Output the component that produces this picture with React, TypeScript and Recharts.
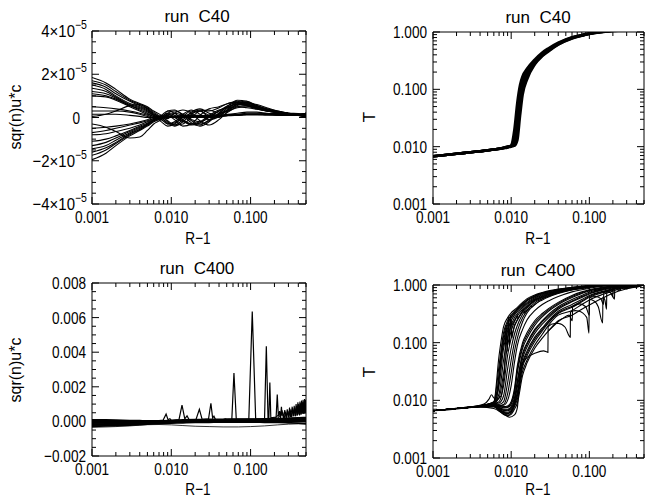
import React from 'react';
import { LineChart, Line, XAxis, YAxis, ReferenceArea } from 'recharts';

const FONT = '"Liberation Sans", Arial, sans-serif';
const FS = 17;
const NARROW = 0.8; // tick labels are drawn condensed, like the IDL vector font
const INK = '#000';

// ---- ticks -------------------------------------------------------------
const X_TICKS = [
  0.001, 0.002, 0.003, 0.004, 0.005, 0.006, 0.007, 0.008, 0.009,
  0.01, 0.02, 0.03, 0.04, 0.05, 0.06, 0.07, 0.08, 0.09,
  0.1, 0.2, 0.3, 0.4, 0.5,
];
const X_MAJOR = [0.001, 0.01, 0.1];
const X_DOMAIN: [number, number] = [0.001, 0.5];

const LOG_Y_TICKS = [
  0.001, 0.002, 0.003, 0.004, 0.005, 0.006, 0.007, 0.008, 0.009,
  0.01, 0.02, 0.03, 0.04, 0.05, 0.06, 0.07, 0.08, 0.09,
  0.1, 0.2, 0.3, 0.4, 0.5, 0.6, 0.7, 0.8, 0.9, 1,
];
const LOG_Y_MAJOR = [0.001, 0.01, 0.1, 1];

const TL_Y_TICKS = [
  -4e-5, -3.5e-5, -3e-5, -2.5e-5, -2e-5, -1.5e-5, -1e-5, -0.5e-5, 0,
  0.5e-5, 1e-5, 1.5e-5, 2e-5, 2.5e-5, 3e-5, 3.5e-5, 4e-5,
];
const TL_Y_MAJOR = [-4e-5, -2e-5, 0, 2e-5, 4e-5];

const BL_Y_TICKS = [
  -0.002, -0.0015, -0.001, -0.0005, 0, 0.0005, 0.001, 0.0015, 0.002, 0.0025,
  0.003, 0.0035, 0.004, 0.0045, 0.005, 0.0055, 0.006, 0.0065, 0.007, 0.0075, 0.008,
];
const BL_Y_MAJOR = [-0.002, 0, 0.002, 0.004, 0.006, 0.008];

// ---- run C40, sqr(n)u*c (values in units of 1e-5) -----------------------
const X1 = [0.001, 0.0015, 0.002, 0.003, 0.004, 0.005, 0.006, 0.0075, 0.009, 0.011, 0.014, 0.018,
  0.023, 0.03, 0.04, 0.052, 0.068, 0.09, 0.12, 0.16, 0.22, 0.3, 0.4, 0.5];
const U1 = [
  [1.85, 1.6, 1.3, 0.85, 0.65, 0.5, 0.3, 0.1, -0.2, -0.35, -0.1, 0.25, 0.4, 0.2, 0.1, 0.35, 0.6, 0.7, 0.55, 0.4, 0.3, 0.2, 0.15, 0.2],
  [1.7, 1.5, 1.2, 0.8, 0.6, 0.45, 0.25, 0.05, 0.1, -0.1, -0.4, -0.3, 0.1, 0.4, 0.5, 0.65, 0.75, 0.6, 0.45, 0.3, 0.25, 0.18, 0.12, 0.05],
  [1.6, 1.4, 1.1, 0.75, 0.55, 0.4, 0.2, 0.0, 0.3, 0.35, 0.1, -0.25, -0.4, -0.2, 0.2, 0.55, 0.8, 0.75, 0.5, 0.35, 0.25, 0.2, 0.18, 0.15],
  [1.5, 1.3, 1.0, 0.65, 0.5, 0.35, 0.15, 0.0, -0.05, 0.2, 0.35, 0.2, -0.15, -0.35, -0.1, 0.3, 0.55, 0.65, 0.6, 0.45, 0.3, 0.2, 0.15, 0.1],
  [1.35, 1.2, 0.95, 0.6, 0.45, 0.3, 0.1, -0.05, 0.15, 0.0, -0.2, -0.3, -0.35, -0.1, 0.15, 0.3, 0.45, 0.5, 0.45, 0.35, 0.25, 0.18, 0.1, 0.0],
  [1.2, 1.1, 0.9, 0.55, 0.4, 0.25, 0.1, 0.0, 0.0, 0.05, 0.1, 0.1, 0.05, 0.05, 0.1, 0.15, 0.2, 0.25, 0.25, 0.2, 0.18, 0.15, 0.12, 0.1],
  [1.1, 1.0, 0.85, 0.55, 0.35, 0.2, 0.05, 0.0, -0.3, -0.2, 0.15, 0.35, 0.15, -0.1, 0.05, 0.4, 0.7, 0.75, 0.55, 0.4, 0.28, 0.2, 0.14, 0.2],
  [1.0, 0.95, 0.8, 0.5, 0.3, 0.15, 0.05, 0.0, 0.05, 0.0, 0.05, 0.1, 0.1, 0.08, 0.1, 0.12, 0.15, 0.2, 0.2, 0.18, 0.15, 0.13, 0.11, 0.05],
  [0.5, 0.45, 0.4, 0.3, 0.2, 0.1, 0.0, -0.1, -0.3, -0.25, 0.05, 0.3, 0.3, 0.05, 0.15, 0.45, 0.65, 0.6, 0.45, 0.3, 0.22, 0.16, 0.12, 0.15],
  [0.3, 0.3, 0.3, 0.25, 0.15, 0.05, 0.0, 0.0, 0.0, 0.0, 0.0, 0.05, 0.05, 0.05, 0.05, 0.08, 0.1, 0.12, 0.12, 0.12, 0.11, 0.1, 0.1, 0.1],
  [0.05, 0.15, 0.3, 0.55, 0.6, 0.4, 0.1, -0.2, -0.4, -0.3, 0.0, 0.2, 0.35, 0.3, 0.45, 0.65, 0.7, 0.55, 0.4, 0.3, 0.22, 0.16, 0.12, 0.2],
  [0.15, 0.15, 0.15, 0.1, 0.05, 0.0, 0.0, 0.0, 0.05, 0.05, 0.0, 0.0, 0.05, 0.1, 0.1, 0.1, 0.12, 0.15, 0.15, 0.15, 0.13, 0.12, 0.1, 0.05],
  [-0.3, -0.45, -0.65, -0.95, -0.9, -0.6, -0.3, -0.1, 0.2, 0.3, 0.15, -0.15, -0.3, -0.15, 0.2, 0.5, 0.6, 0.55, 0.42, 0.32, 0.24, 0.17, 0.12, 0.1],
  [-0.5, -0.45, -0.4, -0.3, -0.2, -0.1, 0.0, 0.0, 0.05, 0.0, 0.0, 0.05, 0.05, 0.0, 0.05, 0.1, 0.12, 0.15, 0.15, 0.13, 0.12, 0.1, 0.1, 0.0],
  [-0.7, -0.6, -0.5, -0.35, -0.25, -0.15, -0.05, 0.1, 0.3, 0.2, -0.1, -0.3, -0.2, 0.1, 0.35, 0.45, 0.5, 0.45, 0.38, 0.3, 0.22, 0.16, 0.12, 0.15],
  [-0.8, -0.75, -0.65, -0.5, -0.35, -0.2, -0.05, 0.05, 0.0, 0.0, 0.05, 0.05, 0.0, 0.0, 0.05, 0.1, 0.12, 0.15, 0.15, 0.13, 0.12, 0.1, 0.1, 0.1],
  [-1.1, -1.0, -0.85, -0.6, -0.4, -0.25, -0.1, 0.0, -0.15, -0.35, -0.3, 0.0, 0.3, 0.35, 0.2, 0.35, 0.6, 0.62, 0.5, 0.36, 0.26, 0.18, 0.13, 0.2],
  [-1.3, -1.15, -0.95, -0.65, -0.45, -0.3, -0.1, 0.0, 0.05, 0.05, 0.05, 0.1, 0.08, 0.05, 0.08, 0.1, 0.12, 0.14, 0.15, 0.14, 0.12, 0.11, 0.1, 0.05],
  [-1.45, -1.3, -1.05, -0.7, -0.5, -0.3, -0.1, 0.05, 0.2, 0.1, -0.15, -0.35, -0.25, 0.05, 0.3, 0.55, 0.7, 0.68, 0.5, 0.36, 0.26, 0.18, 0.13, 0.1],
  [-1.6, -1.4, -1.15, -0.75, -0.55, -0.35, -0.15, 0.0, 0.0, 0.05, 0.05, 0.05, 0.05, 0.05, 0.08, 0.1, 0.12, 0.14, 0.14, 0.13, 0.12, 0.11, 0.1, 0.15],
  [-1.75, -1.5, -1.2, -0.8, -0.55, -0.35, -0.15, -0.05, -0.25, -0.4, -0.2, 0.15, 0.3, 0.1, 0.0, 0.25, 0.5, 0.55, 0.45, 0.34, 0.25, 0.18, 0.13, 0.1],
  [-1.95, -1.65, -1.3, -0.85, -0.6, -0.4, -0.2, -0.05, 0.1, 0.2, 0.1, -0.1, -0.2, 0.0, 0.3, 0.5, 0.62, 0.6, 0.46, 0.34, 0.25, 0.18, 0.13, 0.2],
];

// ---- run C40, T ---------------------------------------------------------
const X2 = [0.001, 0.002, 0.004, 0.006, 0.008, 0.009, 0.01, 0.011, 0.012, 0.013, 0.014, 0.016, 0.02,
  0.025, 0.03, 0.04, 0.06, 0.08, 0.1, 0.13, 0.16, 0.2, 0.3, 0.5];
const T1 = [
  [0.0068, 0.0075, 0.0083, 0.0089, 0.0094, 0.0097, 0.0105, 0.02, 0.06, 0.12, 0.17, 0.23, 0.33, 0.44, 0.52, 0.65, 0.81, 0.89, 0.95, 1.0, 1.03, 1.06, 1.08, 1.1],
  [0.0068, 0.0075, 0.0083, 0.0089, 0.0095, 0.0098, 0.0100, 0.014, 0.04, 0.09, 0.14, 0.21, 0.31, 0.42, 0.50, 0.63, 0.80, 0.88, 0.94, 0.99, 1.02, 1.05, 1.07, 1.1],
  [0.0068, 0.0075, 0.0083, 0.0089, 0.0095, 0.0099, 0.0101, 0.011, 0.027, 0.07, 0.12, 0.19, 0.30, 0.40, 0.48, 0.62, 0.79, 0.87, 0.93, 0.99, 1.02, 1.05, 1.07, 1.1],
  [0.0068, 0.0075, 0.0083, 0.0089, 0.0096, 0.0100, 0.0102, 0.0105, 0.018, 0.05, 0.10, 0.17, 0.28, 0.39, 0.47, 0.61, 0.78, 0.86, 0.93, 0.98, 1.02, 1.05, 1.07, 1.1],
  [0.0068, 0.0075, 0.0083, 0.0089, 0.0096, 0.0101, 0.0103, 0.0104, 0.013, 0.035, 0.08, 0.15, 0.27, 0.38, 0.46, 0.60, 0.77, 0.86, 0.92, 0.98, 1.01, 1.04, 1.07, 1.1],
];

// ---- run C400, sqr(n)u*c ------------------------------------------------
const X3 = [0.001, 0.0015, 0.002, 0.003, 0.004, 0.005, 0.007, 0.01, 0.014, 0.02, 0.03, 0.045, 0.07,
  0.1, 0.15, 0.22, 0.3, 0.4, 0.5];
// band, units of 1e-4
const U2 = [
  [0.9, 0.8, 0.7, 0.5, 0.4, 0.3, 0.3, 0.5, 0.8, 1.0, 1.1, 1.2, 1.3, 1.3, 1.4, 1.6, 1.8, 2.0, 2.2],
  [0.3, 0.2, 0.2, 0.1, 0.1, 0.0, 0.1, 0.3, 0.5, 0.7, 0.8, 0.9, 1.0, 1.1, 1.2, 1.3, 1.5, 1.6, 1.8],
  [-0.4, -0.4, -0.3, -0.3, -0.2, -0.2, 0.0, 0.2, 0.3, 0.5, 0.6, 0.7, 0.8, 0.8, 0.9, 1.0, 1.1, 1.2, 1.3],
  [-1.0, -0.9, -0.8, -0.7, -0.6, -0.4, -0.2, 0.0, 0.1, 0.3, 0.4, 0.5, 0.5, 0.6, 0.6, 0.7, 0.8, 0.8, 0.9],
  [-1.6, -1.5, -1.4, -1.2, -1.0, -0.8, -0.5, -0.3, -0.1, 0.1, 0.2, 0.3, 0.3, 0.3, 0.4, 0.4, 0.4, 0.5, 0.5],
  [-2.2, -2.0, -1.9, -1.6, -1.4, -1.2, -0.9, -0.6, -0.4, -0.2, 0.0, 0.1, 0.1, 0.1, 0.1, 0.0, 0.0, 0.1, 0.1],
  [-2.8, -2.6, -2.4, -2.1, -1.8, -1.5, -1.2, -1.0, -0.8, -0.6, -0.5, -0.4, -0.4, -0.4, -0.5, -0.6, -0.8, -1.0, -1.2],
];
const U2_LOW = [-3.4, -3.2, -3.0, -2.6, -2.2, -1.9, -1.8, -2.0, -2.4, -2.8, -3.0, -3.2, -3.2, -3.0, -2.6, -2.0, -1.6, -1.4, -1.6];
// spikes, units of 1e-3
const SP1_X = [0.001, 0.007, 0.0079, 0.0086, 0.0091, 0.0096, 0.0101, 0.0125, 0.01365, 0.0148, 0.0158, 0.0168,
  0.0205, 0.0226, 0.0245, 0.0295, 0.0316, 0.0332, 0.0345, 0.036, 0.045, 0.0483, 0.051, 0.058, 0.0617, 0.066,
  0.095, 0.105, 0.116, 0.15, 0.158, 0.166, 0.17, 0.175, 0.18, 0.21, 0.217, 0.224, 0.232, 0.238, 0.245, 0.25];
const SP1_Y = [0.05, 0.05, 0.08, 0.42, 0.1, 0.15, 0.06, 0.1, 0.94, 0.15, 0.32, 0.1,
  0.12, 0.7, 0.12, 0.15, 1.05, 0.2, 0.3, 0.12, 0.1, 0.15, 0.1, 0.12, 2.8, 0.12,
  0.12, 6.35, 0.12, 0.12, 4.35, 0.15, 0.2, 2.25, 0.2, 0.25, 1.55, 0.3, 0.6, 0.2, 0.85, 0.3];
const SP2_X = [0.2, 0.25, 0.26, 0.27, 0.28, 0.29, 0.3, 0.31, 0.32, 0.335, 0.345, 0.355, 0.365, 0.375, 0.385,
  0.395, 0.405, 0.42, 0.43, 0.44, 0.45, 0.46, 0.47, 0.48, 0.49, 0.5];
const SP2_Y = [0.15, 0.6, 0.2, 0.65, 0.2, 0.7, 0.25, 0.8, 0.25, 0.85, 0.3, 0.9, 0.3, 1.0, 0.35,
  1.1, 0.4, 1.15, 0.4, 1.2, 0.45, 1.25, 0.45, 1.3, 0.5, 1.2];
const SP3_X = [0.22, 0.255, 0.265, 0.275, 0.285, 0.295, 0.305, 0.315, 0.33, 0.34, 0.35, 0.36, 0.37, 0.38,
  0.39, 0.4, 0.415, 0.425, 0.435, 0.45, 0.465, 0.475, 0.485, 0.495, 0.5];
const SP3_Y = [0.2, 0.5, 0.15, 0.55, 0.2, 0.6, 0.2, 0.7, 0.25, 0.75, 0.3, 0.8, 0.3, 0.9,
  0.35, 1.0, 0.35, 1.05, 0.4, 1.1, 0.45, 1.15, 0.45, 1.25, 0.8];

// ---- run C400, T --------------------------------------------------------
const X4 = [0.001, 0.002, 0.004, 0.006, 0.007, 0.008, 0.009, 0.01, 0.011, 0.012, 0.014, 0.016, 0.02,
  0.025, 0.03, 0.04, 0.06, 0.08, 0.1, 0.15, 0.2, 0.3, 0.5];
const T2 = [
  [0.0066, 0.0072, 0.0080, 0.0095, 0.06, 0.19, 0.27, 0.33, 0.37, 0.41, 0.50, 0.58, 0.67, 0.74, 0.79, 0.85, 0.91, 0.95, 0.98, 1.02, 1.04, 1.06, 1.08],
  [0.0066, 0.0072, 0.0080, 0.0093, 0.04, 0.15, 0.24, 0.30, 0.35, 0.39, 0.47, 0.55, 0.64, 0.72, 0.77, 0.83, 0.90, 0.94, 0.97, 1.01, 1.03, 1.05, 1.07],
  [0.0066, 0.0072, 0.0080, 0.0092, 0.025, 0.11, 0.20, 0.27, 0.32, 0.37, 0.45, 0.53, 0.62, 0.70, 0.75, 0.82, 0.89, 0.93, 0.96, 1.00, 1.03, 1.05, 1.07],
  [0.0066, 0.0072, 0.0080, 0.0091, 0.018, 0.08, 0.16, 0.24, 0.30, 0.35, 0.43, 0.50, 0.60, 0.68, 0.73, 0.80, 0.88, 0.92, 0.95, 1.00, 1.02, 1.05, 1.07],
  [0.0066, 0.0072, 0.0079, 0.0090, 0.013, 0.05, 0.12, 0.20, 0.27, 0.32, 0.41, 0.48, 0.58, 0.66, 0.72, 0.79, 0.87, 0.91, 0.95, 0.99, 1.02, 1.04, 1.06],
  [0.0066, 0.0072, 0.0079, 0.0089, 0.011, 0.03, 0.09, 0.16, 0.23, 0.29, 0.38, 0.46, 0.56, 0.64, 0.70, 0.78, 0.86, 0.90, 0.94, 0.99, 1.01, 1.04, 1.06],
  [0.0066, 0.0072, 0.0079, 0.0088, 0.0095, 0.018, 0.06, 0.12, 0.19, 0.25, 0.35, 0.43, 0.54, 0.62, 0.68, 0.76, 0.85, 0.90, 0.93, 0.98, 1.01, 1.03, 1.05],
  [0.0066, 0.0072, 0.0079, 0.0087, 0.0090, 0.012, 0.035, 0.08, 0.14, 0.20, 0.31, 0.40, 0.52, 0.60, 0.66, 0.75, 0.84, 0.89, 0.93, 0.98, 1.00, 1.03, 1.05],
  [0.0066, 0.0072, 0.0079, 0.0086, 0.0085, 0.0095, 0.02, 0.05, 0.10, 0.16, 0.27, 0.36, 0.49, 0.58, 0.64, 0.73, 0.83, 0.88, 0.92, 0.97, 1.00, 1.03, 1.05],
  [0.0066, 0.0072, 0.0079, 0.0085, 0.0082, 0.0085, 0.013, 0.03, 0.07, 0.12, 0.23, 0.33, 0.46, 0.55, 0.62, 0.71, 0.82, 0.87, 0.91, 0.97, 1.00, 1.02, 1.04],
  [0.0066, 0.0072, 0.0079, 0.0085, 0.0081, 0.0082, 0.010, 0.018, 0.045, 0.09, 0.17, 0.25, 0.36, 0.46, 0.53, 0.63, 0.76, 0.83, 0.88, 0.95, 0.99, 1.02, 1.05],
  [0.0066, 0.0072, 0.0079, 0.0084, 0.0080, 0.0078, 0.0080, 0.0095, 0.016, 0.04, 0.10, 0.15, 0.24, 0.32, 0.39, 0.50, 0.66, 0.76, 0.83, 0.92, 0.97, 1.02, 1.05],
  [0.0066, 0.0072, 0.0079, 0.0084, 0.0079, 0.0076, 0.0077, 0.009, 0.014, 0.035, 0.09, 0.135, 0.22, 0.30, 0.37, 0.48, 0.63, 0.73, 0.81, 0.90, 0.96, 1.01, 1.05],
  [0.0066, 0.0072, 0.0079, 0.0083, 0.0078, 0.0074, 0.0075, 0.0085, 0.013, 0.03, 0.08, 0.12, 0.20, 0.28, 0.35, 0.46, 0.61, 0.71, 0.79, 0.89, 0.95, 1.00, 1.04],
  [0.0066, 0.0072, 0.0078, 0.0082, 0.0076, 0.0070, 0.0070, 0.0078, 0.011, 0.022, 0.065, 0.10, 0.17, 0.24, 0.31, 0.42, 0.56, 0.66, 0.75, 0.86, 0.92, 0.98, 1.04],
  [0.0066, 0.0072, 0.0078, 0.0081, 0.0075, 0.0068, 0.0068, 0.0075, 0.010, 0.02, 0.06, 0.095, 0.16, 0.23, 0.29, 0.40, 0.53, 0.63, 0.72, 0.84, 0.90, 0.97, 1.03],
  [0.0066, 0.0072, 0.0078, 0.0081, 0.0074, 0.0067, 0.0066, 0.0072, 0.0095, 0.017, 0.053, 0.085, 0.145, 0.21, 0.27, 0.38, 0.51, 0.61, 0.70, 0.82, 0.89, 0.96, 1.03],
  [0.0066, 0.0072, 0.0078, 0.0080, 0.0072, 0.0064, 0.0062, 0.0067, 0.0088, 0.014, 0.045, 0.072, 0.125, 0.18, 0.24, 0.35, 0.46, 0.56, 0.66, 0.78, 0.86, 0.94, 1.03],
  [0.0066, 0.0072, 0.0078, 0.0079, 0.0071, 0.0062, 0.0060, 0.0065, 0.0085, 0.013, 0.042, 0.066, 0.115, 0.17, 0.23, 0.33, 0.43, 0.53, 0.63, 0.76, 0.84, 0.93, 1.02],
  [0.0066, 0.0072, 0.0078, 0.0079, 0.0070, 0.0061, 0.0059, 0.0063, 0.0082, 0.012, 0.038, 0.06, 0.105, 0.16, 0.22, 0.32, 0.41, 0.51, 0.61, 0.74, 0.83, 0.92, 1.02],
  [0.0066, 0.0072, 0.0077, 0.0078, 0.0068, 0.0059, 0.0056, 0.0060, 0.0077, 0.0105, 0.032, 0.05, 0.09, 0.14, 0.20, 0.30, 0.36, 0.46, 0.55, 0.69, 0.79, 0.90, 1.02],
  [0.0066, 0.0072, 0.0077, 0.0077, 0.0066, 0.0057, 0.0054, 0.0057, 0.0070, 0.009, 0.027, 0.045, 0.08, 0.12, 0.16, 0.24, 0.30, 0.38, 0.45, 0.60, 0.72, 0.86, 1.00],
];
// sawtooth curves
const SAW_X = [0.001, 0.002, 0.004, 0.006, 0.008, 0.0095, 0.011, 0.012, 0.0127, 0.0133, 0.0153, 0.0205, 0.026,
  0.0295, 0.0297, 0.036, 0.0405, 0.049, 0.057, 0.0573, 0.066, 0.0726, 0.0925, 0.099, 0.0993, 0.115, 0.13,
  0.148, 0.149, 0.158, 0.166, 0.167, 0.19, 0.21, 0.211, 0.24, 0.26, 0.3, 0.35, 0.4, 0.5];
const SAW_Y = [0.0066, 0.0072, 0.0077, 0.0072, 0.0058, 0.0051, 0.0056, 0.0075, 0.02, 0.038, 0.052, 0.066, 0.072,
  0.068, 0.19, 0.215, 0.215, 0.185, 0.125, 0.34, 0.36, 0.355, 0.275, 0.146, 0.56, 0.53, 0.42,
  0.22, 0.62, 0.55, 0.38, 0.8, 0.72, 0.57, 0.88, 0.8, 0.92, 0.85, 0.96, 0.92, 1.0];
const SAW2_X = [0.03, 0.045, 0.055, 0.0605, 0.061, 0.075, 0.09, 0.1, 0.1005, 0.12, 0.14, 0.152, 0.1525, 0.17,
  0.19, 0.2, 0.2005, 0.25, 0.3, 0.5];
const SAW2_Y = [0.16, 0.26, 0.3, 0.24, 0.42, 0.47, 0.42, 0.3, 0.6, 0.63, 0.58, 0.46, 0.74, 0.76,
  0.72, 0.62, 0.86, 0.9, 0.88, 1.0];
// small sawtooth near T=1
const RIP_X = [0.12, 0.15, 0.18, 0.2, 0.201, 0.23, 0.25, 0.251, 0.28, 0.3, 0.301, 0.33, 0.36, 0.361, 0.4, 0.43,
  0.431, 0.47, 0.5];
const RIP_Y = [0.8, 0.86, 0.9, 0.78, 0.95, 0.93, 0.84, 0.98, 0.96, 0.89, 1.0, 0.98, 0.93, 1.02, 0.99, 0.95,
  1.03, 1.0, 0.97];
const BUMP_X = [0.001, 0.003, 0.0045, 0.0052, 0.0056, 0.006, 0.0065, 0.007, 0.008, 0.009, 0.01, 0.012, 0.016,
  0.02, 0.03, 0.06, 0.1, 0.2, 0.5];
const BUMP_Y = [0.0066, 0.0076, 0.0086, 0.0105, 0.0125, 0.011, 0.0105, 0.03, 0.13, 0.22, 0.28, 0.38, 0.55,
  0.65, 0.77, 0.9, 0.97, 1.03, 1.07];
const JAG_X = [0.001, 0.004, 0.006, 0.0075, 0.0082, 0.0086, 0.0089, 0.0092, 0.0095, 0.0098, 0.0102, 0.011,
  0.014, 0.02, 0.04, 0.1, 0.5];
const JAG_Y = [0.0066, 0.008, 0.009, 0.012, 0.03, 0.2, 0.07, 0.28, 0.09, 0.3, 0.12, 0.2, 0.36, 0.55, 0.8,
  0.96, 1.07];
const ZIG_X = [0.001, 0.004, 0.006, 0.0068, 0.0075, 0.0085, 0.01, 0.0102, 0.012, 0.0122, 0.0145, 0.0148,
  0.018, 0.0183, 0.025, 0.04, 0.1, 0.5];
const ZIG_Y = [0.0066, 0.008, 0.0092, 0.015, 0.06, 0.15, 0.24, 0.2, 0.3, 0.26, 0.37, 0.33, 0.44, 0.41,
  0.58, 0.75, 0.95, 1.07];

type Pt = { x: number; y: number };
type Series = { pts: Pt[]; w: number; curve: 'monotone' | 'linear' };

const pts = (xs: number[], ys: number[], unit = 1): Pt[] => xs.map((x, i) => ({ x, y: ys[i] * unit }));

const fmt3 = (v: number) => v.toFixed(3).replace('-', '\u2212');

// condensed svg text, anchored at (x, y)
const SText = ({ x, y, anchor, sx = NARROW, children }: {
  x: number; y: number; anchor: 'start' | 'middle' | 'end'; sx?: number; children: React.ReactNode;
}) => (
  <text transform={`translate(${x} ${y}) scale(${sx} 1)`} textAnchor={anchor} fontFamily={FONT} fontSize={FS} fill={INK}>
    {children}
  </text>
);

const xTick = (boxH: number) => (p: any) => {
  const v = p.payload.value;
  const major = X_MAJOR.includes(v);
  const len = major ? 7 : 4;
  return (
    <g>
      <line x1={p.x} y1={p.y} x2={p.x} y2={p.y - len} stroke={INK} />
      <line x1={p.x} y1={p.y - boxH} x2={p.x} y2={p.y - boxH + len} stroke={INK} />
      {major && <SText x={p.x} y={p.y + 19} anchor="middle">{fmt3(v)}</SText>}
    </g>
  );
};

const plainLabel = (x: number, y: number, v: number) => (
  <SText x={x - 6} y={y + 6} anchor="end">{fmt3(v)}</SText>
);

const expLabel = (x: number, y: number, v: number) => {
  const m = Math.round(v / 1e-5);
  if (m === 0) return <SText x={x - 12} y={y + 6} anchor="end">0</SText>;
  return (
    <SText x={x - 5} y={y + 6} anchor="end" sx={0.88}>
      <tspan>{(m < 0 ? '\u2212' : '') + Math.abs(m) + '\u00d710'}</tspan>
      <tspan dy={-8} fontSize={12}>{'\u22125'}</tspan>
    </SText>
  );
};

const yTick = (boxW: number, major: number[], label: (x: number, y: number, v: number) => React.ReactNode) =>
  (p: any) => {
    const v = p.payload.value;
    const isMajor = major.includes(v);
    const len = isMajor ? 7 : 4;
    return (
      <g>
        <line x1={p.x} y1={p.y} x2={p.x + len} y2={p.y} stroke={INK} />
        <line x1={p.x + boxW} y1={p.y} x2={p.x + boxW - len} y2={p.y} stroke={INK} />
        {isMajor && label(p.x, p.y, v)}
      </g>
    );
  };

type Rect = { x: number; y: number; w: number; h: number };

type PanelProps = {
  chart: Rect;
  box: Rect;
  yDomain: [number, number];
  yLog: boolean;
  yTicks: number[];
  yMajor: number[];
  yLabelFn: (x: number, y: number, v: number) => React.ReactNode;
  series: Series[];
};

// axes are 1px thick (zero-sized axes are skipped by recharts)
function Panel({ chart, box, yDomain, yLog, yTicks, yMajor, yLabelFn, series }: PanelProps) {
  const margin = {
    top: box.y - chart.y,
    left: box.x - chart.x - 1,
    right: chart.x + chart.w - (box.x + box.w),
    bottom: chart.y + chart.h - (box.y + box.h) - 1,
  };
  return (
    <div style={{ position: 'absolute', left: chart.x, top: chart.y }}>
      <LineChart width={chart.w} height={chart.h} margin={margin}>
        <XAxis
          dataKey="x"
          type="number"
          scale="log"
          domain={X_DOMAIN}
          allowDataOverflow
          ticks={X_TICKS}
          interval={0}
          height={1}
          tickSize={0}
          tickMargin={0}
          axisLine={false}
          tickLine={false}
          tick={xTick(box.h)}
        />
        <YAxis
          type="number"
          scale={yLog ? 'log' : 'linear'}
          domain={yDomain}
          allowDataOverflow
          ticks={yTicks}
          interval={0}
          width={1}
          tickSize={0}
          tickMargin={0}
          axisLine={false}
          tickLine={false}
          tick={yTick(box.w, yMajor, yLabelFn)}
        />
        {series.map((s, i) => (
          <Line
            key={i}
            data={s.pts}
            dataKey="y"
            type={s.curve}
            stroke={INK}
            strokeWidth={s.w}
            dot={false}
            activeDot={false}
            isAnimationActive={false}
          />
        ))}
        <ReferenceArea
          x1={X_DOMAIN[0]}
          x2={X_DOMAIN[1]}
          y1={yDomain[0]}
          y2={yDomain[1]}
          fill="none"
          stroke={INK}
          strokeWidth={1}
          ifOverflow="visible"
        />
      </LineChart>
    </div>
  );
}

const Txt = ({ x, y, rot, sx = 1, children }: {
  x: number; y: number; rot?: boolean; sx?: number; children: React.ReactNode;
}) => (
  <div
    style={{
      position: 'absolute',
      left: x,
      top: y,
      transform: `translate(-50%, -50%)${rot ? ' rotate(-90deg)' : ''} scaleX(${sx})`,
      fontFamily: FONT,
      fontSize: FS,
      lineHeight: 1,
      whiteSpace: 'pre',
      color: INK,
    }}
  >
    {children}
  </div>
);

const TL_BOX = { x: 92, y: 31, w: 214, h: 173 };
const TR_BOX = { x: 433, y: 32, w: 211, h: 172 };
const BL_BOX = { x: 92, y: 283, w: 214, h: 173 };
const BR_BOX = { x: 433, y: 285, w: 211, h: 173 };

export default function App() {
  const s1: Series[] = U1.map((ys) => ({ pts: pts(X1, ys, 1e-5), w: 1.1, curve: 'monotone' }));
  const s2: Series[] = T1.map((ys) => ({ pts: pts(X2, ys), w: 2.6, curve: 'monotone' }));
  const s3: Series[] = [
    ...U2.map((ys) => ({ pts: pts(X3, ys, 1e-4), w: 1.8, curve: 'monotone' as const })),
    { pts: pts(X3, U2_LOW, 1e-4), w: 0.8, curve: 'monotone' },
    { pts: pts(SP1_X, SP1_Y, 1e-3), w: 1.2, curve: 'linear' },
    { pts: pts(SP2_X, SP2_Y, 1e-3), w: 1.1, curve: 'linear' },
    { pts: pts(SP3_X, SP3_Y, 1e-3), w: 1.1, curve: 'linear' },
  ];
  const s4: Series[] = [
    ...T2.map((ys) => ({ pts: pts(X4, ys), w: 1.1, curve: 'monotone' as const })),
    { pts: pts(SAW_X, SAW_Y), w: 1.1, curve: 'monotone' },
    { pts: pts(SAW2_X, SAW2_Y), w: 1.1, curve: 'monotone' },
    { pts: pts(RIP_X, RIP_Y), w: 1.1, curve: 'linear' },
    { pts: pts(BUMP_X, BUMP_Y), w: 1.1, curve: 'monotone' },
    { pts: pts(JAG_X, JAG_Y), w: 1.1, curve: 'linear' },
    { pts: pts(ZIG_X, ZIG_Y), w: 1.1, curve: 'linear' },
  ];

  return (
    <div style={{ position: 'absolute', left: 0, top: 0, width: 645, height: 500, overflow: 'hidden', background: '#fff' }}>
      <Panel chart={{ x: 0, y: 0, w: 322, h: 250 }} box={TL_BOX} yDomain={[-4e-5, 4e-5]} yLog={false}
        yTicks={TL_Y_TICKS} yMajor={TL_Y_MAJOR} yLabelFn={expLabel} series={s1} />
      <Panel chart={{ x: 322, y: 0, w: 323, h: 250 }} box={TR_BOX} yDomain={[0.001, 1]} yLog
        yTicks={LOG_Y_TICKS} yMajor={LOG_Y_MAJOR} yLabelFn={plainLabel} series={s2} />
      <Panel chart={{ x: 0, y: 250, w: 322, h: 250 }} box={BL_BOX} yDomain={[-0.002, 0.008]} yLog={false}
        yTicks={BL_Y_TICKS} yMajor={BL_Y_MAJOR} yLabelFn={plainLabel} series={s3} />
      <Panel chart={{ x: 322, y: 250, w: 323, h: 250 }} box={BR_BOX} yDomain={[0.001, 1]} yLog
        yTicks={LOG_Y_TICKS} yMajor={LOG_Y_MAJOR} yLabelFn={plainLabel} series={s4} />

      <Txt x={197} y={16}>run  C40</Txt>
      <Txt x={538} y={17}>run  C40</Txt>
      <Txt x={197} y={268}>run  C400</Txt>
      <Txt x={538} y={270}>run  C400</Txt>

      <Txt x={198} y={238} sx={NARROW}>R{'\u2212'}1</Txt>
      <Txt x={538} y={238} sx={NARROW}>R{'\u2212'}1</Txt>
      <Txt x={198} y={489} sx={NARROW}>R{'\u2212'}1</Txt>
      <Txt x={538} y={489} sx={NARROW}>R{'\u2212'}1</Txt>

      <Txt x={15} y={117} rot sx={0.94}>sqr(n)u*c</Txt>
      <Txt x={15} y={370} rot sx={0.94}>sqr(n)u*c</Txt>
      <Txt x={369} y={117} rot>T</Txt>
      <Txt x={369} y={372} rot>T</Txt>
    </div>
  );
}
